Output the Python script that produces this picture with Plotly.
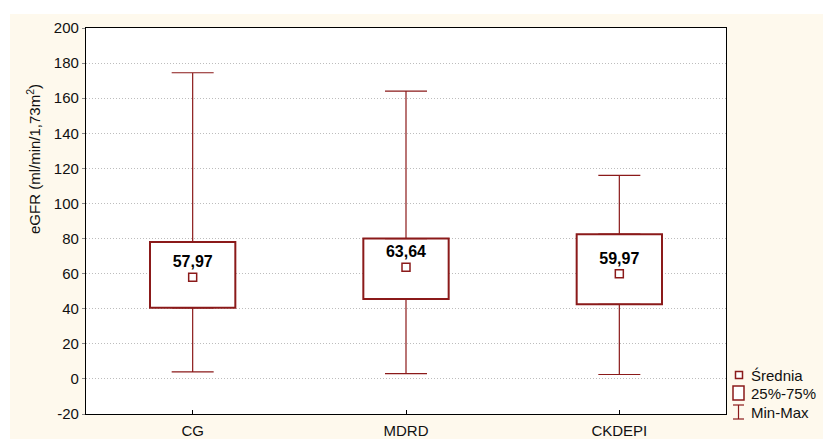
import plotly.graph_objects as go

# ---- data ----
categories = ["CG", "MDRD", "CKDEPI"]
means = [57.97, 63.64, 59.97]
mean_labels = ["57,97", "63,64", "59,97"]
q1 = [40.5, 45.5, 42.5]
q3 = [78.0, 80.0, 82.5]
mins = [4.0, 3.0, 2.5]
maxs = [174.5, 164.0, 116.0]
y_ticks = [-20, 0, 20, 40, 60, 80, 100, 120, 140, 160, 180, 200]
legend_labels = ["Średnia", "25%-75%", "Min-Max"]

RED = "#8B1A1A"
CREAM = "#FEF9ED"
FONT = "Liberation Sans, Arial, sans-serif"

W, H = 823, 439
L, R, T, B = 86, 97, 28, 25
PW, PH = W - L - R, H - T - B


def px2x(px):
    return (px - L) / PW


def py2y(py):
    return (T + PH - py) / PH


fig = go.Figure()

# boxes (25%-75%)
fig.add_trace(go.Bar(
    x=categories, y=[b - a for a, b in zip(q1, q3)], base=q1, width=0.4,
    marker=dict(color="white", line=dict(color=RED, width=2)),
    hoverinfo="skip",
))

# upper whiskers
fig.add_trace(go.Scatter(
    x=categories, y=q3, mode="markers",
    marker=dict(size=1, opacity=0),
    error_y=dict(type="data", symmetric=False,
                 array=[m - q for m, q in zip(maxs, q3)],
                 arrayminus=[0, 0, 0], width=21, thickness=1.2, color=RED),
    hoverinfo="skip",
))
# lower whiskers
fig.add_trace(go.Scatter(
    x=categories, y=q1, mode="markers",
    marker=dict(size=1, opacity=0),
    error_y=dict(type="data", symmetric=False,
                 array=[0, 0, 0],
                 arrayminus=[q - m for q, m in zip(q1, mins)],
                 width=21, thickness=1.2, color=RED),
    hoverinfo="skip",
))

# means
fig.add_trace(go.Scatter(
    x=categories, y=means, mode="markers+text",
    marker=dict(symbol="square", size=8, color="white",
                line=dict(color=RED, width=1.5)),
    text=mean_labels, textposition="top center",
    textfont=dict(family=FONT, size=16, color="black", weight="bold"),
    hoverinfo="skip",
))

shapes = []
# white outer strips
shapes.append(dict(type="rect", xref="paper", yref="paper", layer="below",
                   x0=px2x(0), x1=px2x(10), y0=py2y(H), y1=py2y(0),
                   fillcolor="white", line=dict(width=0)))
shapes.append(dict(type="rect", xref="paper", yref="paper", layer="below",
                   x0=px2x(0), x1=px2x(W), y0=py2y(14), y1=py2y(0),
                   fillcolor="white", line=dict(width=0)))

# legend symbols
shapes.append(dict(type="rect", xref="paper", yref="paper",
                   x0=px2x(735.5), x1=px2x(742.5), y0=py2y(378.5), y1=py2y(371.5),
                   fillcolor="white", line=dict(color=RED, width=1.5)))
shapes.append(dict(type="rect", xref="paper", yref="paper",
                   x0=px2x(733), x1=px2x(744), y0=py2y(400), y1=py2y(386),
                   fillcolor="white", line=dict(color=RED, width=1.5)))
shapes.append(dict(type="line", xref="paper", yref="paper",
                   x0=px2x(738.5), x1=px2x(738.5), y0=py2y(419), y1=py2y(405),
                   line=dict(color=RED, width=1.2)))
for yy in (405, 419):
    shapes.append(dict(type="line", xref="paper", yref="paper",
                       x0=px2x(733), x1=px2x(744), y0=py2y(yy), y1=py2y(yy),
                       line=dict(color=RED, width=1.2)))

annotations = []
for lab, yy in zip(legend_labels, (375, 393, 412)):
    annotations.append(dict(text=lab, xref="paper", yref="paper",
                            x=px2x(749), y=py2y(yy), xanchor="left", yanchor="middle",
                            showarrow=False, font=dict(family=FONT, size=15, color="#111")))

annotations.append(dict(text="eGFR (ml/min/1,73m<sup>2</sup>)", xref="paper", yref="paper",
                        x=px2x(33), y=py2y(159), textangle=-90,
                        xanchor="center", yanchor="middle", showarrow=False,
                        font=dict(family=FONT, size=15, color="#111")))

fig.update_layout(
    width=W, height=H,
    margin=dict(l=L, r=R, t=T, b=B, pad=0),
    paper_bgcolor=CREAM, plot_bgcolor="white",
    showlegend=False, hovermode=False,
    font=dict(family=FONT, size=15, color="#111"),
    shapes=shapes, annotations=annotations,
    xaxis=dict(type="category", range=[-0.5, 2.5], showgrid=False, automargin=False,
               showline=True, linecolor="black", linewidth=1.3, mirror=True,
               ticks="inside", ticklen=4, tickcolor="black", ticklabelstandoff=3,
               tickfont=dict(family=FONT, size=15, color="#111"), fixedrange=True),
    yaxis=dict(range=[-20, 200], tickvals=y_ticks, ticktext=[str(v) for v in y_ticks],
               automargin=False,
               showgrid=True, gridcolor="#BDBDBD", griddash="1px,2px", gridwidth=1,
               zeroline=False,
               showline=True, linecolor="black", linewidth=1.3, mirror=True,
               ticks="outside", ticklen=3, tickcolor="#888",
               tickfont=dict(family=FONT, size=15, color="#111"), fixedrange=True),
)

fig.write_html("out.html")
